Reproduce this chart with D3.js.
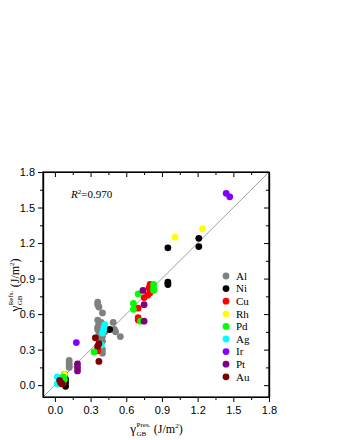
<!DOCTYPE html>
<html>
<head>
<meta charset="utf-8">
<script src="https://cdn.jsdelivr.net/npm/d3@7"></script>
<style>
  body { margin: 0; background: #fff; }
  svg text { fill: #000; }
</style>
</head>
<body>
<svg id="chart" width="340" height="440"></svg>
<script>
// metals, legend order and colours
const metals = ["Al", "Ni", "Cu", "Rh", "Pd", "Ag", "Ir", "Pt", "Au"];
const colors = ["#808080", "#000000", "#ff0000", "#ffff00", "#00ff00", "#00ffff", "#8000ff", "#800080", "#800000"];

// [present, reference] GB energies per metal (J/m^2)
const alData = [[0.12,0.21],[0.12,0.19],[0.12,0.17],[0.12,0.15],[0.36,0.70],[0.36,0.68],[0.37,0.66],
  [0.40,0.61],[0.36,0.55],[0.37,0.52],[0.36,0.49],[0.36,0.47],[0.37,0.43],[0.40,0.41],[0.40,0.37],
  [0.40,0.30],[0.40,0.27],[0.49,0.53],[0.50,0.47],[0.51,0.45],[0.55,0.41],[0.39,0.53],[0.42,0.45],[0.38,0.40]];
const niData = [[0.08,0.09],[0.09,0.05],[0.09,0.02],[0.09,-0.01],[0.46,0.47],[0.95,0.87],[0.95,0.85],
  [0.95,1.16],[1.21,1.24],[1.21,1.17]];
const cuData = [[0.07,0.02],[0.06,0.04],[0.36,0.31],[0.36,0.29],[0.70,0.65],[0.70,0.57],[0.70,0.55],
  [0.75,0.74],[0.78,0.76],[0.80,0.78],[0.80,0.85],[0.80,0.83],[0.79,0.82]];
const rhData = [[0.08,0.09],[1.01,1.25],[1.24,1.32]];
const pdData = [[0.07,0.07],[0.08,0.05],[0.33,0.28],[0.66,0.69],[0.66,0.64],[0.70,0.77],[0.72,0.54],
  [0.83,0.85],[0.83,0.82],[0.83,0.80]];
const agData = [[0.02,0.07],[0.02,0.01],[0.04,0.04],[0.39,0.34],[0.40,0.44],[0.41,0.47],[0.42,0.51]];
const irData = [[0.18,0.36],[1.44,1.62],[1.47,1.59]];
const ptData = [[0.19,0.18],[0.19,0.15],[0.19,0.12],[0.74,0.80],[0.75,0.68],[0.75,0.54]];
const auData = [[0.05,0.02],[0.06,0.01],[0.04,0.04],[0.34,0.40],[0.37,0.35],[0.36,0.33],[0.37,0.20]];
const seriesData = [alData, niData, cuData, rhData, pdData, agData, irData, ptData, auData];

const tickValues = [0.0, 0.3, 0.6, 0.9, 1.2, 1.5, 1.8];
const minorValues = [0.15, 0.45, 0.75, 1.05, 1.35, 1.65];
const rSquared = "0.970";

const svg = d3.select("#chart");
const pLeft = 43, pRight = 269, pTop = 172, pBottom = 397;

const x = d3.scaleLinear().domain([-0.1, 1.8]).range([pLeft, pRight]);
const y = d3.scaleLinear().domain([-0.1, 1.8]).range([pBottom, pTop]);

const sans = "'Liberation Sans', Arial, sans-serif";
const serif = "'Liberation Serif', 'Times New Roman', serif";

// clip for the plot area
svg.append("defs").append("clipPath").attr("id", "plotclip")
  .append("rect").attr("x", pLeft).attr("y", pTop).attr("width", pRight - pLeft).attr("height", pBottom - pTop);

// y = x reference line
svg.append("line")
  .attr("clip-path", "url(#plotclip)")
  .attr("x1", x(-0.1)).attr("y1", y(-0.1))
  .attr("x2", x(1.8)).attr("y2", y(1.8))
  .style("stroke", "#a0a0a0")
  .style("stroke-width", 1);

// points, drawn in legend order so Au ends up on top
const pts = svg.append("g");
metals.forEach((m, i) => {
  pts.selectAll(".p" + m)
    .data(seriesData[i])
    .enter().append("circle")
    .attr("cx", d => x(d[0]))
    .attr("cy", d => y(d[1]))
    .attr("r", 3.4)
    .style("fill", colors[i]);
});

// axes: bottom/left with labels, top/right mirrored ticks pointing inwards
function styleAxis(g) {
  g.selectAll("path").style("stroke", "#000").style("stroke-width", 1.2);
  g.selectAll("line").style("stroke", "#000").style("stroke-width", 1);
  g.selectAll("text").style("font-family", sans).style("font-size", "11px");
}

function addAxis(axis, tx, ty) {
  svg.append("g").attr("transform", `translate(${tx},${ty})`).call(axis).call(styleAxis);
}

const fmt = d3.format(".1f");
addAxis(d3.axisBottom(x).tickValues(tickValues).tickFormat(fmt).tickSize(5).tickSizeOuter(0).tickPadding(4), 0, pBottom);
addAxis(d3.axisLeft(y).tickValues(tickValues).tickFormat(fmt).tickSize(5).tickSizeOuter(0).tickPadding(3), pLeft, 0);
addAxis(d3.axisBottom(x).tickValues(tickValues).tickFormat("").tickSize(5).tickSizeOuter(0), 0, pTop);
addAxis(d3.axisLeft(y).tickValues(tickValues).tickFormat("").tickSize(5).tickSizeOuter(0), pRight, 0);

// minor ticks
addAxis(d3.axisBottom(x).tickValues(minorValues).tickFormat("").tickSize(3).tickSizeOuter(0), 0, pBottom);
addAxis(d3.axisLeft(y).tickValues(minorValues).tickFormat("").tickSize(3).tickSizeOuter(0), pLeft, 0);
addAxis(d3.axisBottom(x).tickValues(minorValues).tickFormat("").tickSize(3).tickSizeOuter(0), 0, pTop);
addAxis(d3.axisLeft(y).tickValues(minorValues).tickFormat("").tickSize(3).tickSizeOuter(0), pRight, 0);

// frame
svg.append("rect")
  .attr("x", pLeft).attr("y", pTop)
  .attr("width", pRight - pLeft).attr("height", pBottom - pTop)
  .style("fill", "none").style("stroke", "#000").style("stroke-width", 1.2);

// gamma label: γ with stacked super/subscript, then (J/m²)
function gammaLabel(g, sup) {
  const gam = g.append("text").attr("x", 0).attr("y", 0)
    .style("font-family", serif).style("font-size", "13px").text("γ");
  const gw = gam.node().getComputedTextLength();
  const supT = g.append("text").attr("x", gw + 0.5).attr("y", -6)
    .style("font-family", serif).style("font-size", "7px").text(sup);
  g.append("text").attr("x", gw + 0.5).attr("y", 3)
    .style("font-family", serif).style("font-size", "7px").text("GB");
  const sw = supT.node().getComputedTextLength();
  const unit = g.append("text").attr("x", gw + sw + 4).attr("y", 0)
    .style("font-family", serif).style("font-size", "12px");
  unit.append("tspan").text("(J/m");
  unit.append("tspan").attr("dy", -5).style("font-size", "7px").text("2");
  unit.append("tspan").attr("dy", 5).text(")");
  return g;
}

const xl = gammaLabel(svg.append("g"), "Pres.");
const xw = xl.node().getBBox().width;
xl.attr("transform", `translate(${(pLeft + pRight) / 2 - xw / 2 + 1},433)`);

const yl = gammaLabel(svg.append("g"), "Refs.");
const yw = yl.node().getBBox().width;
yl.attr("transform", `translate(19,${(pTop + pBottom) / 2 + yw / 2}) rotate(-90)`);

// R^2 annotation
const r2 = svg.append("text").attr("x", 71).attr("y", 198)
  .style("font-family", serif).style("font-size", "11px");
r2.append("tspan").style("font-style", "italic").text("R");
r2.append("tspan").attr("dy", -4).style("font-size", "7px").text("2");
r2.append("tspan").attr("dy", 4).text("=" + rSquared);

// legend
const legend = svg.append("g").attr("transform", "translate(226,276)");
const item = legend.selectAll(".item")
  .data(metals)
  .enter().append("g")
  .attr("transform", (d, i) => `translate(0,${i * 12.6})`);
item.append("circle").attr("r", 3.4).style("fill", (d, i) => colors[i]);
item.append("text")
  .attr("x", 10).attr("dy", "0.35em")
  .style("font-family", serif).style("font-size", "11px")
  .text(d => d);
</script>
</body>
</html>
